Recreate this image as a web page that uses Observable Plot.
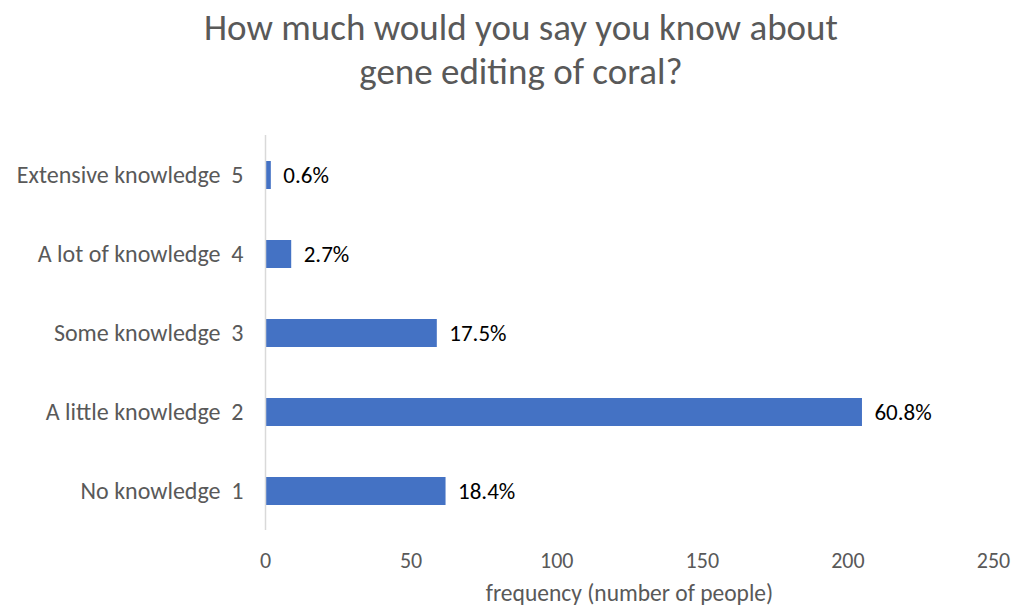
<!DOCTYPE html>
<html>
<head>
<meta charset="utf-8">
<script src="https://cdn.jsdelivr.net/npm/d3@7"></script>
<script src="https://cdn.jsdelivr.net/npm/@observablehq/plot@0.6"></script>
<style>
  html, body { margin: 0; padding: 0; background: #fff; }
  body { width: 1028px; height: 608px; overflow: hidden; font-family: Carlito, Calibri, Lato, sans-serif; }
  #title { margin-top: 6px; padding-left: 14px; height: 94px; text-align: center; font-size: 37px; line-height: 44px; color: #595959; white-space: nowrap; }
  #chart svg { display: block; overflow: visible; }
</style>
</head>
<body>
<div id="title">How much would you say you know about<br>gene editing of coral?</div>
<div id="chart"></div>
<script>
const categories = ["Extensive knowledge", "A lot of knowledge", "Some knowledge", "A little knowledge", "No knowledge"];
const codes = [5, 4, 3, 2, 1];
const counts = [2, 9, 59, 205, 62];
const percentLabels = ["0.6%", "2.7%", "17.5%", "60.8%", "18.4%"];
const xTicks = [0, 50, 100, 150, 200, 250];

const data = categories.map((c, i) => ({
  label: c + "\u00a0\u00a0" + codes[i],
  count: counts[i],
  pct: percentLabels[i]
}));

const plot = Plot.plot({
  width: 1028,
  height: 508,
  marginLeft: 265,
  marginRight: 35,
  marginTop: 35,
  marginBottom: 78,
  style: { fontFamily: "Carlito, Calibri, Lato, sans-serif", color: "#595959", background: "#fff", overflow: "visible" },
  x: { domain: [0, 250], ticks: xTicks, label: null },
  y: { domain: data.map(d => d.label), paddingInner: 0.65, paddingOuter: 0.325, align: 0.5, label: null },
  marks: [
    Plot.barX(data, { x: "count", y: "label", fill: "#4472C4" }),
    Plot.ruleX([0], { stroke: "#d9d9d9", strokeWidth: 1.5 }),
    Plot.text(data, { x: "count", y: "label", text: "pct", textAnchor: "start", dx: 12, fill: "#000", fontSize: 23 }),
    Plot.axisX({ ticks: xTicks, tickSize: 0, tickPadding: 22, fontSize: 22, fill: "#595959", label: null }),
    Plot.axisY({ tickSize: 0, tickPadding: 22, fontSize: 24, fill: "#595959", label: null }),
    Plot.text(["frequency (number of people)"], { frameAnchor: "bottom", dy: 70, fontSize: 23.5, fill: "#595959" })
  ]
});
document.getElementById("chart").appendChild(plot);
</script>
</body>
</html>
